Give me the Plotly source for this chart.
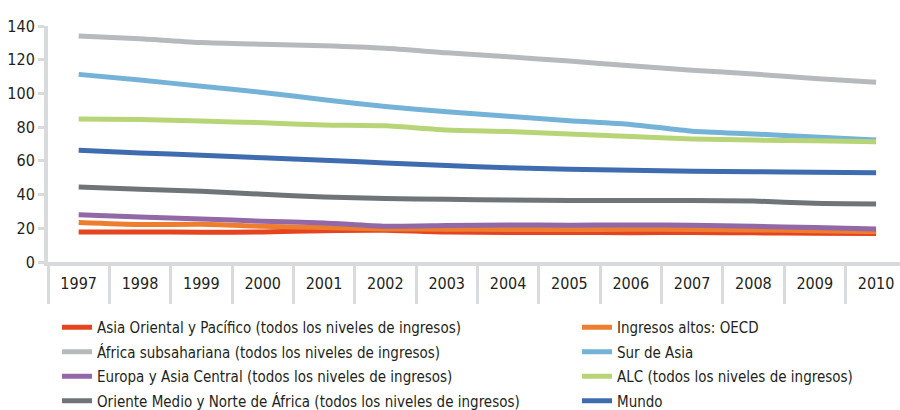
import plotly.graph_objects as go

years = ["1997", "1998", "1999", "2000", "2001", "2002", "2003", "2004",
         "2005", "2006", "2007", "2008", "2009", "2010"]

asia_oriental = [17.8, 17.8, 17.7, 17.8, 18.6, 18.8, 17.8, 17.5, 17.5, 17.4, 17.5, 17.3, 17.0, 16.9]
ingresos_altos = [23.4, 22.2, 22.4, 21.2, 20.4, 19.6, 19.5, 19.3, 19.3, 19.4, 19.3, 19.0, 18.5, 18.0]
africa = [134.0, 132.5, 130.2, 129.2, 128.3, 126.8, 124.1, 121.7, 119.2, 116.4, 113.8, 111.5, 108.9, 106.6]
sur_asia = [111.3, 107.9, 104.3, 100.6, 96.2, 92.2, 89.1, 86.5, 83.8, 81.6, 77.6, 76.0, 74.2, 72.3]
europa = [28.1, 26.7, 25.5, 24.2, 23.2, 21.2, 21.6, 22.0, 21.8, 22.0, 21.8, 21.2, 20.4, 19.6]
alc = [84.9, 84.5, 83.6, 82.6, 81.3, 80.8, 78.3, 77.4, 75.9, 74.4, 73.0, 72.3, 71.9, 71.3]
oriente = [44.5, 43.2, 42.0, 40.2, 38.6, 37.6, 37.2, 36.8, 36.5, 36.5, 36.5, 36.2, 34.8, 34.4]
mundo = [66.3, 64.7, 63.4, 61.8, 60.4, 58.8, 57.2, 55.9, 55.0, 54.4, 53.9, 53.5, 53.3, 52.9]

names = ["Asia Oriental y Pacífico (todos los niveles de ingresos)",
         "Ingresos altos: OECD",
         "África subsahariana (todos los niveles de ingresos)",
         "Sur de Asia",
         "Europa y Asia Central (todos los niveles de ingresos)",
         "ALC (todos los niveles de ingresos)",
         "Oriente Medio y Norte de África (todos los niveles de ingresos)",
         "Mundo"]
series = [asia_oriental, ingresos_altos, africa, sur_asia, europa, alc, oriente, mundo]
colors = ["#E4441F", "#EE7D2F", "#B6BABD", "#74B2D7", "#9268A7", "#B7D577", "#6E7478", "#3F6CAF"]
legend_ids = ["legend", "legend2", "legend", "legend2", "legend", "legend2", "legend", "legend2"]

y_ticks = [0, 20, 40, 60, 80, 100, 120, 140]

FONT = "Liberation Sans Narrow, DejaVu Sans Condensed, Arial Narrow, sans-serif"
TXT = "#231F20"
AX = "#D9DADB"

fig = go.Figure()
for i, (nm, vals, col, lg) in enumerate(zip(names, series, colors, legend_ids)):
    fig.add_trace(go.Scatter(
        x=years, y=vals, name=nm, mode="lines",
        line=dict(color=col, width=5, shape="spline", smoothing=0.6),
        legend=lg, legendgroup=f"g{i}", hoverinfo="skip"))

W, H = 900, 410
fig.update_layout(
    width=W, height=H,
    margin=dict(l=48, r=0, t=26, b=148, autoexpand=False),
    paper_bgcolor="white", plot_bgcolor="white",
    font=dict(family=FONT, color=TXT, size=15),
    xaxis=dict(
        type="category", range=[-0.5, 13.39],
        showgrid=False, zeroline=False,
        showline=True, linecolor=AX, linewidth=4,
        ticks="outside", tickson="boundaries", ticklen=38, tickwidth=3, tickcolor=AX,
        ticklabelstandoff=4, tickangle=0, automargin=False,
        tickfont=dict(size=16, color=TXT, family=FONT),
    ),
    yaxis=dict(
        range=[0, 140], tickvals=y_ticks, ticktext=[str(v) for v in y_ticks],
        showgrid=False, zeroline=False, automargin=False,
        showline=True, linecolor=AX, linewidth=4,
        ticks="outside", ticklen=6, tickwidth=3, tickcolor=AX,
        tickfont=dict(size=16, color=TXT, family=FONT),
    ),
    legend=dict(
        xref="container", yref="container", x=57 / W, y=1 - 311 / H,
        xanchor="left", yanchor="top", orientation="v",
        tracegroupgap=2, font=dict(size=15, color=TXT, family=FONT),
        bgcolor="rgba(0,0,0,0)",
    ),
    legend2=dict(
        xref="container", yref="container", x=577 / W, y=1 - 311 / H,
        xanchor="left", yanchor="top", orientation="v",
        tracegroupgap=2, font=dict(size=15, color=TXT, family=FONT),
        bgcolor="rgba(0,0,0,0)",
    ),
    showlegend=True,
)

fig.write_html("out.html")
